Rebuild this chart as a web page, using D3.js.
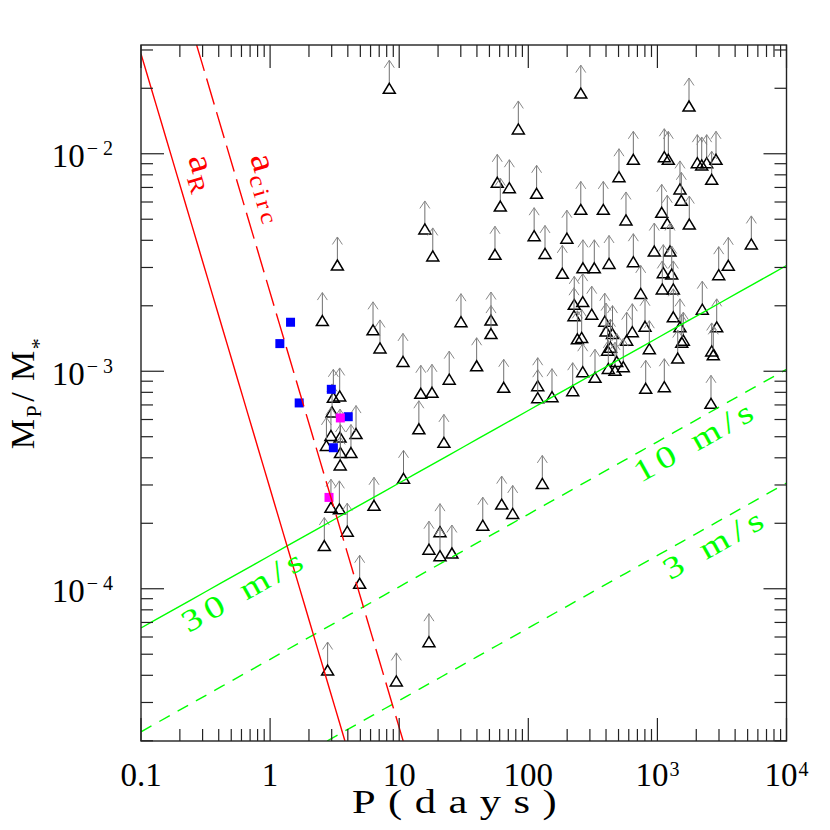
<!DOCTYPE html>
<html><head><meta charset="utf-8">
<script src="https://cdn.jsdelivr.net/npm/d3@7"></script>
<style>body{margin:0;background:#fff} svg{display:block}</style>
</head><body>
<svg id="c" width="830" height="830"></svg>
<script>
// ---- data: lower-limit planets (open triangles with arrows) ----
const limitP = [8.38,255,83.7,57.5,71.3,60.7,116,255,381,504,15.8,111,199,
 1757,651,1131,1215,2038,2204,2409,2844,2634,1496,1532,1080,1193,1766,571,946,1252,651,422,5339,3541,2985,1111,1291,
 55.2,134.7,265,324.5,183.4,30.1,51.4,51.4,227,264,310,226,391,400,449,411,433,240,259,
 39.8,24.4,64.5,118.3,118.3,152.6,220.8,264,328.6,416.6,469.5,22.2,
 742.6,1091,1328,2227,2880,2634,2710,1328,1496,1588,1543,1437,801.7,865.7,639,578,484,544,811.8,1131,2601,
 3.32,18.2,2.54,6.27,7.10,10.7,14.7,17.95,14.2,
 3.09,3.46,3.02,4.63,2.96,3.48,2.73,3.51,4.23,3.49,10.8,2.96,3.44,6.38,3.96,2.63,17.0,20.7,20.7,25.6,44.4,4.94,17.0,2.79,9.50,128.4,62.2,75.7];
const limitM = [0.0200,0.0190,0.0130,0.00739,0.00698,0.00575,0.00658,0.00555,0.00555,0.00784,0.00451,0.00420,0.00409,
 0.01658,0.00943,0.00969,0.00943,0.00910,0.00888,0.00910,0.00943,0.00763,0.00689,0.00611,0.00538,0.00479,0.00475,0.00496,0.00357,0.00357,0.00319,0.00313,0.00385,0.00307,0.00278,0.00284,0.00280,
 0.00345,0.00348,0.00299,0.00299,0.00282,0.00169,0.00172,0.00149,0.00203,0.00209,0.00183,0.00180,0.00170,0.00153,0.00149,0.00125,0.00129,0.00141,0.00143,
 0.00106,0.00092,0.000844,0.000858,0.000756,0.000764,0.000814,0.000995,0.000938,0.00103,0.00101,0.000471,
 0.00228,0.00239,0.00239,0.00193,0.00160,0.00124,0.00119,0.00178,0.00160,0.00139,0.00136,0.00115,0.00161,0.00127,0.00152,0.00139,0.00111,0.00105,0.000835,0.000849,0.000712,
 0.00308,0.00339,0.00171,0.00155,0.00128,0.00111,0.000792,0.000800,0.000544,
 0.000759,0.00077,0.00065,0.000517,0.000507,0.000498,0.000456,0.000423,0.000423,0.000371,0.000322,0.000237,0.000233,0.000242,0.000184,0.000158,0.000152,0.000183,0.000142,0.000146,0.000196,0.000106,0.0000571,0.0000423,0.0000377,0.000305,0.000245,0.000222];
// ---- transiting planets ----
const blueP = [1.44,1.19,1.68,2.98,4.03,3.09];
const blueM = [0.00168,0.00134,0.000715,0.000826,0.000618,0.000445];
const magP = [3.50,2.86];
const magM = [0.00061,0.000263];
// ---- reference curves ----
const rvK = [30,10,3];                 // m/s
const rvLabels = ["30 m/s","10 m/s","3 m/s"];
const rvLabelP = [0.2337,740,1250];
const rvCoef = 4.74e-6;                // M/M* = rvCoef * K * P^(1/3)
const rocheCoef = [2.88e-4, 2.3e-3];   // M/M* = c * P^-2  (a_R, a_circ)
const rocheLabelP = [0.2312,0.699];
const rocheLabelM = [0.00956,0.00966];
const rocheSub = ["R","circ"];
// ---- ticks ----
const xTicks = [0.1,1,10,100,1000,10000];
const xTickLabels = [["0.1",""],["1",""],["10",""],["100",""],["10","3"],["10","4"]];
const yTicks = [1e-4,1e-3,1e-2];
const yTickLabels = [["10","\u22124"],["10","\u22123"],["10","\u22122"]];

const FONT = "Liberation Serif";
const svg = d3.select("#c");
const x = d3.scaleLog().domain([0.1,1e4]).range([141,786.5]);
const y = d3.scaleLog().domain([Math.pow(10,-4.7),Math.pow(10,-1.5)]).range([741,45]);
const X0=141,X1=786.5,YB=741,YT=45;
const yMin=y.domain()[0], yMax=y.domain()[1];

svg.append("defs").append("clipPath").attr("id","clip")
  .append("rect").attr("x",X0).attr("y",YT).attr("width",X1-X0).attr("height",YB-YT);

// ---- points ----
const pts = svg.append("g");
limitP.forEach((p,i)=>{
  const g = pts.append("g").attr("transform",`translate(${x(p)},${y(limitM[i])})`);
  g.append("line").attr("x1",0).attr("x2",0).attr("y1",-5).attr("y2",-28)
    .attr("stroke","#707070").attr("stroke-width",1);
  g.append("path").attr("d","M-5,-20.5L0,-28L5,-20.5").attr("fill","none")
    .attr("stroke","#888").attr("stroke-width",1);
  g.append("path").attr("d","M0,-5L6,5L-6,5Z").attr("fill","none")
    .attr("stroke","#000").attr("stroke-width",1.5).attr("stroke-linejoin","miter");
});
blueP.forEach((p,i)=>{
  pts.append("rect").attr("x",x(p)-4.5).attr("y",y(blueM[i])-4.5).attr("width",9).attr("height",9).attr("fill","#0000ff");
});
magP.forEach((p,i)=>{
  pts.append("rect").attr("x",x(p)-4.5).attr("y",y(magM[i])-4.5).attr("width",9).attr("height",9).attr("fill","#ff00ff");
});

// ---- lines ----
const lg = svg.append("g").attr("clip-path","url(#clip)");
const line = d3.line().x(d=>x(d[0])).y(d=>y(d[1]));
rvK.forEach((K,i)=>{
  const f = P=>rvCoef*K*Math.cbrt(P);
  const pStart = Math.max(0.1, Math.pow(yMin/(rvCoef*K),3));
  const pts2 = d3.range(0,41).map(j=>{const P=pStart*Math.pow(1e4/pStart,j/40);return [P,f(P)];});
  lg.append("path").attr("d",line(pts2)).attr("fill","none").attr("stroke","#00ff00")
    .attr("stroke-width",1.4).attr("stroke-dasharray", i===0?null:"12,9");
});
rocheCoef.forEach((c,i)=>{
  const pStart = Math.max(0.1, Math.sqrt(c/yMax));
  const pEnd = Math.sqrt(c/yMin);
  const pts2 = d3.range(0,41).map(j=>{const P=pStart*Math.pow(pEnd/pStart,j/40);return [P,c/(P*P)];});
  lg.append("path").attr("d",line(pts2)).attr("fill","none").attr("stroke","#ff0000")
    .attr("stroke-width",1.4).attr("stroke-dasharray", i===0?null:"27,8");
});

// ---- curve labels ----
const angRV = Math.atan2(y(rvCoef*30*Math.cbrt(1e4))-y(rvCoef*30*Math.cbrt(0.1)), x(1e4)-x(0.1))*180/Math.PI;
const SX = 1.25;
rvK.forEach((K,i)=>{
  const P=rvLabelP[i];
  const px=x(P), py=y(rvCoef*K*Math.cbrt(P))+32;
  svg.append("text").attr("transform",`translate(${px},${py}) rotate(${angRV}) scale(${SX},1)`)
    .attr("font-family",FONT).attr("font-size",31).attr("fill","#00ff00")
    .attr("textLength",[134,132,110][i]/SX).attr("lengthAdjust","spacing")
    .text(rvLabels[i]);
});
const angR = Math.atan2(y(rocheCoef[0]/100)-y(rocheCoef[0]/0.01), x(10)-x(0.1))*180/Math.PI;
rocheCoef.forEach((c,i)=>{
  const t = svg.append("text")
    .attr("transform",`translate(${x(rocheLabelP[i])},${y(rocheLabelM[i])}) rotate(${angR}) scale(1.15,1)`)
    .attr("font-family",FONT).attr("fill","#ff0000");
  t.append("tspan").attr("font-size",35).text("a");
  t.append("tspan").attr("font-size",23).attr("dy",7).attr("dx",1).attr("letter-spacing",i===1?3:0).text(rocheSub[i]);
});

// ---- frame & ticks ----
const ax = svg.append("g").attr("stroke","#222").attr("stroke-width",1.2);
ax.append("rect").attr("x",X0).attr("y",YT).attr("width",X1-X0).attr("height",YB-YT).attr("fill","none").attr("stroke-width",1.4);
const xMinor=[], yMinor=[];
for(let d=-1; d<4; d++) for(let m=2;m<10;m++) xMinor.push(m*Math.pow(10,d));
for(let d=-5; d<-1; d++) for(let m=2;m<10;m++){const v=m*Math.pow(10,d); if(v>=yMin && v<=yMax) yMinor.push(v);}
xTicks.forEach(v=>{const px=x(v);
  ax.append("line").attr("x1",px).attr("x2",px).attr("y1",YB).attr("y2",YB-23);
  ax.append("line").attr("x1",px).attr("x2",px).attr("y1",YT).attr("y2",YT+23);});
xMinor.forEach(v=>{const px=x(v);
  ax.append("line").attr("x1",px).attr("x2",px).attr("y1",YB).attr("y2",YB-12);
  ax.append("line").attr("x1",px).attr("x2",px).attr("y1",YT).attr("y2",YT+12);});
yTicks.forEach(v=>{const py=y(v);
  ax.append("line").attr("x1",X0).attr("x2",X0+23).attr("y1",py).attr("y2",py);
  ax.append("line").attr("x1",X1).attr("x2",X1-23).attr("y1",py).attr("y2",py);});
yMinor.forEach(v=>{const py=y(v);
  ax.append("line").attr("x1",X0).attr("x2",X0+12).attr("y1",py).attr("y2",py);
  ax.append("line").attr("x1",X1).attr("x2",X1-12).attr("y1",py).attr("y2",py);});

// ---- tick labels ----
xTicks.forEach((v,i)=>{
  const t = svg.append("text").attr("x",x(v)).attr("y",786).attr("text-anchor","middle")
    .attr("font-family",FONT).attr("font-size",33).attr("fill","#000");
  t.append("tspan").text(xTickLabels[i][0]);
  if(xTickLabels[i][1]) t.append("tspan").attr("font-size",20).attr("dy",-10).attr("dx",1).text(xTickLabels[i][1]);
});
yTicks.forEach((v,i)=>{
  const t = svg.append("text").attr("x",118).attr("y",y(v)+13.4).attr("text-anchor","end")
    .attr("font-family",FONT).attr("font-size",33).attr("fill","#000");
  t.append("tspan").text(yTickLabels[i][0]);
  t.append("tspan").attr("font-size",20).attr("dy",-12).attr("dx",2).attr("letter-spacing",5).text(yTickLabels[i][1]);
});

// ---- axis titles ----
const XS = 1.25;
const xl = svg.append("text").attr("transform",`translate(352,813) scale(${XS},1)`)
  .attr("font-family",FONT).attr("font-size",34).attr("fill","#000");
xl.append("tspan").attr("x",0).text("P");
xl.append("tspan").attr("x",(388-352)/XS).attr("letter-spacing",10).text("(days)");
const yl = svg.append("text").attr("transform",`translate(34,${(YT+YB)/2}) rotate(-90)`)
  .attr("text-anchor","middle").attr("font-family",FONT).attr("font-size",34).attr("fill","#000")
  .attr("letter-spacing",1.5);
yl.append("tspan").text("M");
yl.append("tspan").attr("font-size",22).attr("dy",7).text("P");
yl.append("tspan").attr("dy",-7).attr("dx",2).text("/ M");
yl.append("tspan").attr("font-size",22).attr("dy",12).text("*");
</script>
</body></html>
